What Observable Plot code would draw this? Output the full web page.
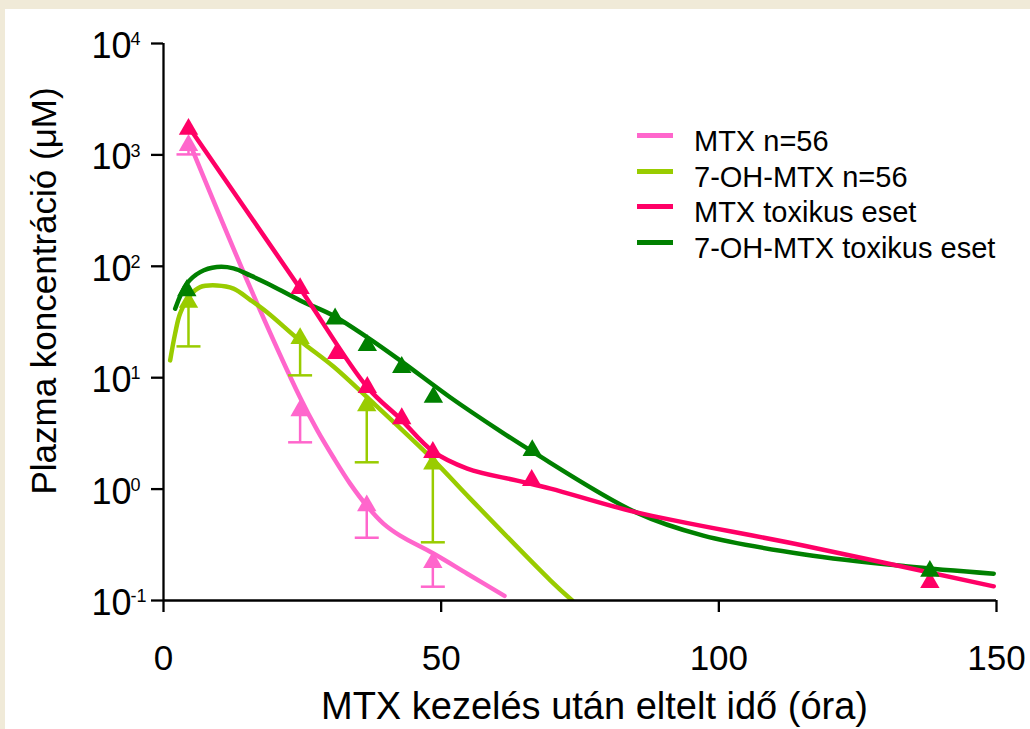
<!DOCTYPE html>
<html><head><meta charset="utf-8">
<script src="https://cdn.jsdelivr.net/npm/d3@7"></script>
<script src="https://cdn.jsdelivr.net/npm/@observablehq/plot@0.6"></script>
<style>
html,body{margin:0;padding:0;}
body{width:1030px;height:729px;background:#f0ead8;position:relative;overflow:hidden;font-family:"Liberation Sans",Arial,sans-serif;}
#paper{position:absolute;left:5px;top:9px;right:0;bottom:0;background:#fff;}
#chart{position:absolute;left:0;top:0;}
#legend{position:absolute;left:637px;top:124px;}
.row{display:flex;align-items:center;height:35.5px;font-size:29px;color:#000;white-space:nowrap;}
.sw{width:36px;height:5px;margin-right:21px;position:relative;top:-6px;}
</style></head><body>
<div id="paper"></div><div id="chart"></div><div id="legend"></div>
<script>
// ---- axis ticks / labels ----
const xTicks = [0, 50, 100, 150];
const yTicks = [0.1, 1, 10, 100, 1000, 10000];
const yTickBase = "10";
const yTickExp = ["-1", "0", "1", "2", "3", "4"];
const xTitle = "MTX kezelés után eltelt idő (óra)";
const yTitle = "Plazma koncentráció (μM)";

// ---- series ----
const seriesNames = ["MTX n=56", "7-OH-MTX n=56", "MTX toxikus eset", "7-OH-MTX toxikus eset"];
const seriesColors = ["#ff66cc", "#99cc00", "#ff0066", "#008000"];

// group (n=56) measurements: mean and lower error bound
const groupTime = [4.5, 24.6, 36.6, 48.5];
const mtxGroupMean = [1220, 5.07, 0.711, 0.22];
const mtxGroupLow = [1010, 2.63, 0.366, 0.133];
const ohGroupMean = [47.7, 22.5, 5.62, 1.68];
const ohGroupLow = [19.1, 10.5, 1.74, 0.333];

// toxic case measurements
const mtxToxTime = [4.5, 24.6, 31.2, 36.7, 42.9, 48.5, 66.3, 138];
const mtxToxValue = [1700, 63.3, 16.5, 8.2, 4.3, 2.14, 1.2, 0.145];
const ohToxTime = [4.2, 30.9, 36.7, 42.9, 48.6, 66.4, 138];
const ohToxValue = [60.6, 33.8, 19.5, 12.4, 6.68, 2.22, 0.183];

// fitted curves
const mtxGroupFitTime = [4.5, 15.6, 24.6, 27.7, 30.6, 33.6, 36.7, 39.6, 42.6, 48.6, 54.7, 61.4];
const mtxGroupFitValue = [1350, 64.6, 6.64, 3.36, 1.92, 1.12, 0.70, 0.49, 0.382, 0.264, 0.174, 0.110];
const ohGroupFitTime = [1.2, 2.1, 3.0, 4.8, 6.6, 9.6, 12.6, 15.6, 18.7, 24.6, 30.6, 36.7, 48.4, 54.7, 69.7, 73.6];
const ohGroupFitValue = [14.3, 25, 37.8, 54.8, 65, 67.3, 63, 50, 38.5, 21.5, 12.6, 6.64, 1.87, 0.875, 0.151, 0.1];
const mtxToxFitTime = [4.5, 24.6, 36.7, 42.6, 48.6, 54.7, 63.7, 69.7, 85, 115.4, 149.5];
const mtxToxFitValue = [1800, 63.2, 8.22, 4.3, 2.17, 1.53, 1.19, 1.01, 0.621, 0.31, 0.134];
const ohToxFitTime = [2.1, 4.2, 6.6, 9.6, 12.6, 15.6, 18.7, 24.6, 30.6, 36.7, 42.6, 51.6, 60.7, 66.3, 85, 97.2, 115.4, 133.6, 149.5];
const ohToxFitValue = [41.6, 69.8, 88.7, 98.4, 95.8, 82.8, 70.2, 49.4, 36.0, 23.0, 14.3, 6.68, 3.3, 2.19, 0.621, 0.382, 0.259, 0.203, 0.174];

// ---- build tables ----
const zip = (ts, vs) => ts.map((t, i) => ({t, v: vs[i]}));
const zipErr = (ts, vs, ls) => ts.map((t, i) => ({t, v: vs[i], lo: ls[i]}));
const fits = [
  zip(mtxGroupFitTime, mtxGroupFitValue),
  zip(ohGroupFitTime, ohGroupFitValue),
  zip(mtxToxFitTime, mtxToxFitValue),
  zip(ohToxFitTime, ohToxFitValue)
];
const pts = [
  zipErr(groupTime, mtxGroupMean, mtxGroupLow),
  zipErr(groupTime, ohGroupMean, ohGroupLow),
  zip(mtxToxTime, mtxToxValue),
  zip(ohToxTime, ohToxValue)
];
const yTickTable = yTicks.map((v, i) => ({v, exp: yTickExp[i]}));

const capSymbol = {draw(ctx) { ctx.moveTo(-12, 0); ctx.lineTo(12, 0); }};
const font = "Liberation Sans, Arial, sans-serif";

const lineOrder = [0, 1, 3, 2];
const dotOrder = [0, 1, 2, 3];

const marks = [];
for (const i of lineOrder) {
  marks.push(Plot.line(fits[i], {x: "t", y: "v", stroke: seriesColors[i], strokeWidth: 4.5, curve: "catmull-rom", clip: true}));
}
for (const i of [0, 1]) {
  marks.push(Plot.ruleX(pts[i], {x: "t", y1: "lo", y2: "v", stroke: seriesColors[i], strokeWidth: 2.5}));
  marks.push(Plot.dot(pts[i], {x: "t", y: "lo", symbol: capSymbol, stroke: seriesColors[i], strokeWidth: 2.5, fill: "none", r: 5}));
}
for (const i of dotOrder) {
  marks.push(Plot.dot(pts[i], {x: "t", y: "v", symbol: "triangle", fill: seriesColors[i], stroke: "none", r: 7.2}));
}
// axes
marks.push(
  Plot.ruleX([0], {stroke: "#000", strokeWidth: 2.3}),
  Plot.ruleY([0.1], {stroke: "#000", strokeWidth: 2.3}),
  Plot.axisX({ticks: xTicks, tickSize: 12, tickPadding: 33, fontSize: 35, strokeWidth: 2.3, label: null, tickFormat: d => String(d)}),
  Plot.axisY({ticks: yTicks, tickSize: 12, strokeWidth: 2.3, label: null, tickFormat: () => ""}),
  Plot.text(yTickTable, {y: "v", text: () => yTickBase, frameAnchor: "left", textAnchor: "end", dx: -32, dy: 3, fontSize: 36}),
  Plot.text(yTickTable, {y: "v", text: "exp", frameAnchor: "left", textAnchor: "start", dx: -33, dy: -4, fontSize: 18}),
  Plot.text([yTitle], {frameAnchor: "left", textAnchor: "middle", dx: -119, dy: -31, rotate: -90, fontSize: 35}),
  Plot.text([xTitle], {frameAnchor: "bottom", textAnchor: "middle", dx: 14.5, dy: 118, fontSize: 38})
);

const chart = Plot.plot({
  width: 1030, height: 729,
  marginLeft: 163, marginRight: 34, marginTop: 43, marginBottom: 129,
  style: {background: "transparent", fontFamily: font, color: "#000", overflow: "visible"},
  x: {domain: [0, 150]},
  y: {type: "log", domain: [0.1, 10000]},
  marks
});
document.getElementById("chart").appendChild(chart);

const legend = document.getElementById("legend");
seriesNames.forEach((name, i) => {
  const row = document.createElement("div");
  row.className = "row";
  const sw = document.createElement("span");
  sw.className = "sw";
  sw.style.background = seriesColors[i];
  const tx = document.createElement("span");
  tx.textContent = name;
  row.appendChild(sw); row.appendChild(tx);
  legend.appendChild(row);
});
</script></body></html>
